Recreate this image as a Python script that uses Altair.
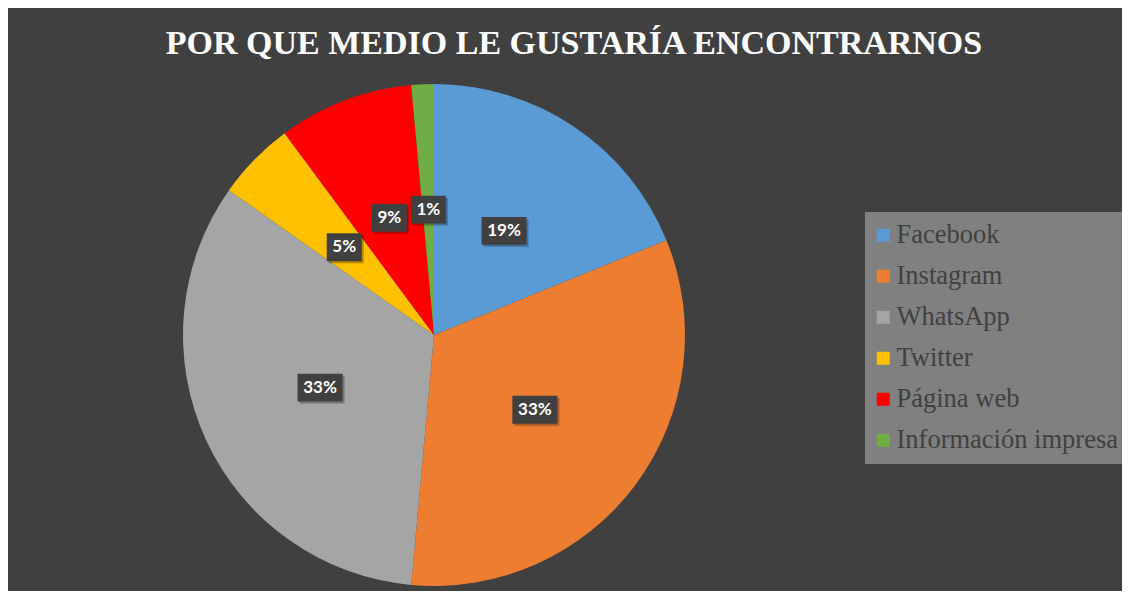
import altair as alt
import pandas as pd

# ---- data ----
categories = ["Facebook", "Instagram", "WhatsApp", "Twitter", "Página web", "Información impresa"]
counts = [26, 45, 46, 7, 12, 2]
colors = ["#5B9BD5", "#ED7D31", "#A5A5A5", "#FFC000", "#FF0000", "#70AD47"]
title_text = "POR QUE MEDIO LE GUSTARÍA ENCONTRARNOS"

df = pd.DataFrame({"medio": categories, "n": counts, "idx": list(range(len(categories)))})

# ---- layout ----
W, H = 1114, 513
PAD_TOP = 70
CX, CY = 426, 257     # pie centre inside the plot area (px)
R = 251               # pie radius (px)
xs = alt.Scale(domain=[-CX / R, (W - CX) / R], nice=False, zero=False)
ys = alt.Scale(domain=[-(H - CY) / R, CY / R], nice=False, zero=False)
BG = "#404040"

pie = alt.Chart(df).mark_arc(radius=R).encode(
    theta=alt.Theta("n:Q", stack=True),
    order=alt.Order("idx:Q"),
    color=alt.Color(
        "medio:N",
        scale=alt.Scale(domain=categories, range=colors),
        legend=alt.Legend(
            title=None, orient="none", legendX=857, legendY=134,
            fillColor="#808080", padding=10,
            labelFont="Liberation Serif", labelFontSize=26.5, labelColor="#404040",
            symbolType="square", symbolSize=169, symbolStrokeWidth=0,
            symbolOffset=-5, labelOffset=0, rowPadding=14, labelLimit=400,
        ),
    ),
    x=alt.XDatum(0, type="quantitative", scale=xs, axis=None),
    y=alt.YDatum(0, type="quantitative", scale=ys, axis=None),
)

lab = alt.Chart(df).transform_joinaggregate(
    total="sum(n)"
).transform_window(
    cum="sum(n)", sort=[alt.SortField("idx")], frame=[None, 0]
).transform_calculate(
    mid="2*PI*(datum.cum - datum.n/2)/datum.total",
    lx="0.5*sin(datum.mid)",
    ly="0.5*cos(datum.mid)",
    label="format(datum.n/datum.total, '.0%')",
    wide="length(format(datum.n/datum.total, '.0%')) > 2 ? 'w' : 'n'",
)

box_enc = dict(
    x=alt.X("lx:Q", scale=xs, axis=None),
    y=alt.Y("ly:Q", scale=ys, axis=None),
    shape=alt.Shape(
        "wide:N",
        scale=alt.Scale(
            domain=["n", "w"],
            range=["M-0.78,-0.62L0.78,-0.62L0.78,0.62L-0.78,0.62Z",
                   "M-1,-0.62L1,-0.62L1,0.62L-1,0.62Z"],
        ),
        legend=None,
    ),
)

shadow = lab.mark_point(
    filled=True, size=2025, color="#000000", opacity=0.28, strokeWidth=0, xOffset=2, yOffset=2
).encode(**box_enc)

boxes = lab.mark_point(
    filled=True, size=2025, color=BG, opacity=1, strokeWidth=0
).encode(**box_enc)

texts = lab.mark_text(
    font="Lato", fontWeight="bold", fontSize=17, color="white", align="center", baseline="middle"
).encode(
    x=alt.X("lx:Q", scale=xs, axis=None),
    y=alt.Y("ly:Q", scale=ys, axis=None),
    text="label:N",
)

chart = alt.layer(pie, shadow, boxes, texts).properties(
    width=W, height=H,
    padding={"left": 0, "right": 0, "top": PAD_TOP, "bottom": 0},
    autosize=alt.AutoSizeParams(type="none"),
    background=BG,
    title=alt.TitleParams(
        title_text, font="Liberation Serif", fontSize=34, fontWeight="bold",
        color="white", anchor="middle", offset=17, dx=9,
    ),
).configure_view(stroke=None)

chart.save("out.html", embed_options={"renderer": "svg", "actions": False})
